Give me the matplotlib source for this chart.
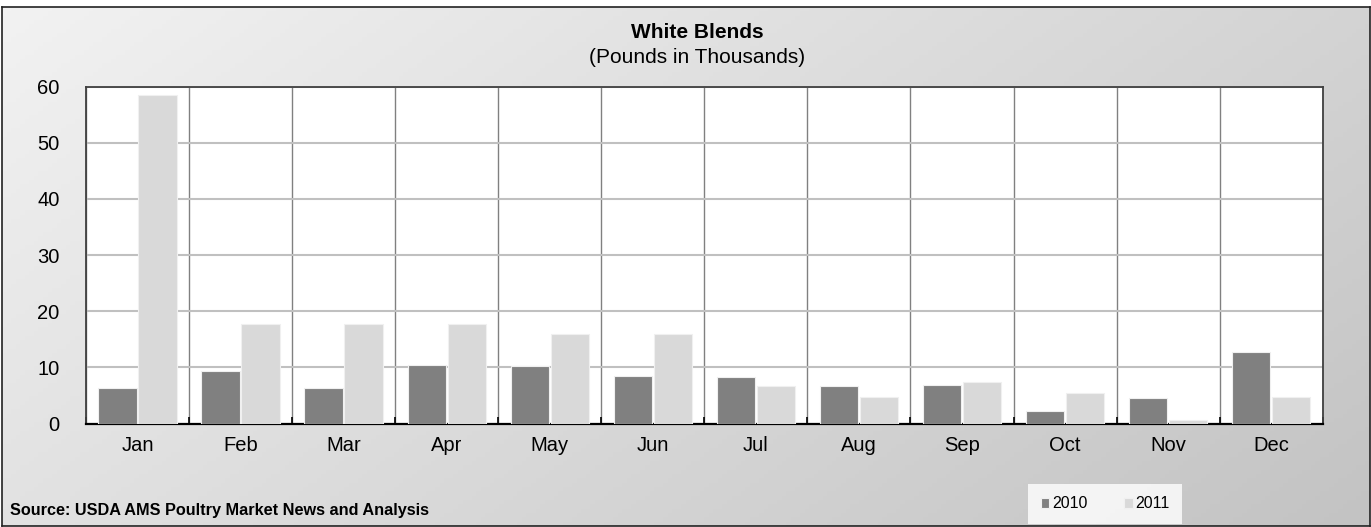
import numpy as np
import matplotlib
matplotlib.use('Agg')
import matplotlib.pyplot as plt

plt.rcParams['font.family'] = ['Liberation Sans', 'DejaVu Sans']

months = ['Jan', 'Feb', 'Mar', 'Apr', 'May', 'Jun', 'Jul', 'Aug', 'Sep', 'Oct', 'Nov', 'Dec']
y2010 = [6.3, 9.4, 6.3, 10.4, 10.3, 8.5, 8.2, 6.7, 6.8, 2.3, 4.6, 12.7]
y2011 = [58.6, 17.8, 17.8, 17.8, 15.9, 15.9, 6.6, 4.8, 7.4, 5.5, 0.7, 4.8]
yticks = [0, 10, 20, 30, 40, 50, 60]

fig = plt.figure(figsize=(13.71, 5.27), dpi=100)

# gradient background inside the outer border
bg = fig.add_axes([2/1371, 1/527, 1368/1371, 519/527], zorder=0)
gx, gy = np.meshgrid(np.linspace(0, 1, 300), np.linspace(0, 1, 120))
grad = (gx * 0.65 + gy * 0.35)
bg.imshow(grad, cmap=matplotlib.colors.LinearSegmentedColormap.from_list('g', ['#f2f2f2', '#c3c3c3']),
          aspect='auto', extent=[0, 1, 0, 1], origin='upper')
bg.set_xlim(0, 1)
bg.set_ylim(0, 1)
bg.set_xticks([])
bg.set_yticks([])
for s in bg.spines.values():
    s.set_color('#222222')
    s.set_linewidth(1.2)

ax = fig.add_axes([86/1371, 1 - 423.5/527, 1236.7/1371, 336.8/527], zorder=1)
ax.set_facecolor('white')
x = np.arange(len(months))
w = 0.372
ax.bar(x - 0.194, y2010, w, color='#808080', edgecolor='#f0f0f0', linewidth=0.8, zorder=3, label='2010')
ax.bar(x + 0.194, y2011, w, color='#d9d9d9', edgecolor='#f0f0f0', linewidth=0.8, zorder=3, label='2011')

ax.set_xlim(-0.5, 11.5)
ax.set_ylim(0, 60)
ax.set_yticks(yticks)
ax.set_xticks(x)
ax.set_xticklabels(months)
ax.set_xticks(np.arange(-0.5, 12, 1), minor=True)
ax.tick_params(axis='x', which='major', length=0, labelsize=14.5, pad=9)
ax.tick_params(axis='x', which='minor', length=5, direction='in', color='black', width=1.2)
ax.tick_params(axis='y', length=0, labelsize=14.5, pad=19)
ax.grid(axis='y', color='#c0c0c0', linewidth=1.5, zorder=1)
ax.grid(axis='x', which='minor', color='#808080', linewidth=1, zorder=1)
for s in ax.spines.values():
    s.set_color('#404040')
    s.set_linewidth(1.3)
ax.spines['bottom'].set_color('black')
ax.spines['bottom'].set_linewidth(1.6)

fig.text(697/1371, 1 - 37.5/527, 'White Blends', ha='center', va='baseline', fontsize=15, fontweight='bold')
fig.text(697/1371, 1 - 63/527, '(Pounds in Thousands)', ha='center', va='baseline', fontsize=15)
fig.text(10/1371, 1 - 511/527, 'Source: USDA AMS Poultry Market News and Analysis', ha='left', va='center',
         fontsize=11.7, fontweight='bold')

leg = fig.legend(loc='center', bbox_to_anchor=(1105/1371, 1 - 504/527), ncol=2, frameon=True, fontsize=11.5,
                 handlelength=0.55, handleheight=0.55, handletextpad=0.15, columnspacing=2.3,
                 borderpad=0.8, fancybox=False, edgecolor='white')
leg.get_frame().set_facecolor('white')
leg.get_frame().set_linewidth(0)
leg.set_zorder(5)

fig.savefig('out.png', dpi=100)
